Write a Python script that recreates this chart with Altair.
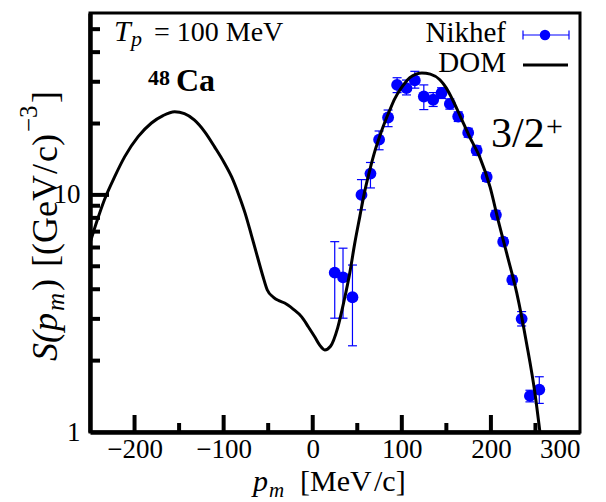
import altair as alt
import pandas as pd

# ---------------- data ----------------
dom_p = [-250, -242, -234, -222, -211, -196, -181, -168, -155, -144, -133, -121, -110,
         -100, -91, -83, -76, -69, -62, -56, -51, -44, -38, -31.5, -22, -12.4, -5, 2.2,
         8, 13.5, 20, 28, 35, 41.6, 47, 52.8, 58, 64, 70, 75, 81, 86.5, 92, 97.8, 104,
         109, 116, 122.5, 132, 142.7, 150, 157, 166, 176, 187.6, 199, 208, 217.6, 229,
         240, 249.4, 255]
dom_s = [6.27, 7.8, 9.5, 12.0, 14.5, 17.6, 20.1, 21.6, 22.4, 22.0, 20.7, 18.4, 15.9,
         13.8, 11.9, 10.0, 8.4, 6.8, 5.47, 4.55, 3.97, 3.70, 3.58, 3.50, 3.30, 3.06,
         2.78, 2.52, 2.32, 2.22, 2.30, 2.75, 3.55, 4.69, 6.2, 8.08, 10.2, 12.7, 15.4,
         17.6, 20.3, 22.8, 25.4, 27.7, 29.8, 31.2, 32.3, 32.7, 32.3, 30.6, 28.2, 25.2,
         21.3, 17.6, 14.4, 10.8, 7.85, 5.69, 3.86, 2.37, 1.46, 1.0]

nik_p = [24.7, 34.0, 44.6, 54.7, 64.8, 74.5, 84.6, 94.7, 105.2, 114.6, 124.7, 135.2,
         144.6, 153.9, 163.3, 174.5, 184.0, 195.2, 205.6, 213.8, 224.0, 234.5, 243.8, 254.3]
nik_s = [4.70, 4.49, 3.70, 10.0, 12.3, 17.1, 21.2, 29.1, 28.2, 30.4, 26.0, 25.2,
         26.9, 24.2, 21.4, 18.3, 15.4, 11.9, 8.24, 6.35, 4.38, 3.00, 1.42, 1.51]
nik_lo = [3.02, 3.02, 2.31, 8.65, 10.7, 15.5, 19.4, 27.0, 26.4, 28.2, 22.9, 23.6,
          25.5, 23.0, 20.4, 17.5, 14.7, 11.4, 7.9, 6.1, 4.2, 2.80, 1.34, 1.32]
nik_hi = [6.35, 5.96, 5.06, 11.6, 13.7, 18.6, 22.8, 31.2, 30.5, 33.2, 29.1, 27.0,
          28.3, 25.4, 22.4, 19.1, 16.1, 12.4, 8.6, 6.6, 4.55, 3.22, 1.50, 1.71]

x_labels = [-200, -100, 0, 100, 200, 300]
x_major = [-200, -100, 0, 100, 200]
x_minor = [-150, -50, 50, 150, 250]
y_labels = [1, 10]
y_major = [10]
y_minor = [2, 3, 4, 5, 6, 7, 8, 9, 20, 30, 40, 50]

series_names = ["Nikhef", "DOM"]

# ---------------- chart ----------------
W, H = 490, 419
FONT = "Liberation Serif"
BLUE = "#0000ff"

xs = alt.Scale(domain=[-250, 300], nice=False, zero=False)
ys = alt.Scale(type="log", domain=[1, 58.5], nice=False)
xaxis = alt.Axis(values=x_labels, title="", labelPadding=4, labelOverlap=False,
                 labelFontSize=27)
yaxis = alt.Axis(values=y_labels, title="", format="d", labelPadding=10,
                 labelFontSize=27, labelBaseline="middle")


def X(f):
    return alt.X(f, type="quantitative", scale=xs, axis=xaxis)


def Y(f):
    return alt.Y(f, type="quantitative", scale=ys, axis=yaxis)


dom_df = pd.DataFrame({"p": dom_p, "s": dom_s})
nik_df = pd.DataFrame({"p": nik_p, "s": nik_s, "lo": nik_lo, "hi": nik_hi})

err = alt.Chart(nik_df).mark_rule(color=BLUE, strokeWidth=1.2).encode(
    x=X("p"), y=Y("lo"), y2="hi")
cap_lo = alt.Chart(nik_df).mark_rule(color=BLUE, strokeWidth=1.2, xOffset=-4.5,
                                     x2Offset=4.5).encode(x=X("p"), x2="p", y=Y("lo"))
cap_hi = alt.Chart(nik_df).mark_rule(color=BLUE, strokeWidth=1.2, xOffset=-4.5,
                                     x2Offset=4.5).encode(x=X("p"), x2="p", y=Y("hi"))
pts = alt.Chart(nik_df).mark_circle(size=140, color=BLUE, opacity=1).encode(
    x=X("p"), y=Y("s"))
line = alt.Chart(dom_df).mark_line(color="black", strokeWidth=3, interpolate="monotone",
                                   clip=True).encode(x=X("p"), y=Y("s"))

# inward ticks
xmaj = alt.Chart(pd.DataFrame({"p": x_major})).mark_rule(color="black", strokeWidth=4).encode(
    x=X("p"), y=alt.value(H), y2=alt.value(H - 17))
xmin = alt.Chart(pd.DataFrame({"p": x_minor})).mark_rule(color="black", strokeWidth=4).encode(
    x=X("p"), y=alt.value(H), y2=alt.value(H - 9))
ymaj = alt.Chart(pd.DataFrame({"s": y_major})).mark_rule(color="black", strokeWidth=4).encode(
    y=Y("s"), x=alt.value(0), x2=alt.value(19))
ymin = alt.Chart(pd.DataFrame({"s": y_minor})).mark_rule(color="black", strokeWidth=4).encode(
    y=Y("s"), x=alt.value(0), x2=alt.value(10))


def label(txt, x, y, size, style="normal", weight="normal", angle=0, align="left"):
    return alt.Chart(pd.DataFrame({"t": [txt]})).mark_text(
        align=align, baseline="alphabetic", font=FONT, fontSize=size,
        fontStyle=style, fontWeight=weight, angle=angle, color="black"
    ).encode(x=alt.value(x), y=alt.value(y), text="t:N")


texts = [
    # T_p = 100 MeV
    label("T", 24, 28, 30, style="italic"),
    label("p", 41, 33, 22, style="italic"),
    label("= 100 MeV", 64, 28, 28),
    # 48Ca
    label("48", 58, 72, 22, weight="bold"),
    label("Ca", 86, 78, 32, weight="bold"),
    # 3/2+
    label("3/2", 401, 134, 42),
    label("+", 456, 123, 30),
    # legend
    label(series_names[0], 416, 29, 29, align="right"),
    label(series_names[1], 416, 59, 29, align="right"),
    # x title
    label("p", 163, 478, 30, style="italic"),
    label("m", 179, 484, 21, style="italic"),
    label("[MeV", 210, 478, 30),
    label("/c]", 284, 478, 30),
    # y title (rotated)
    label("S(p", -33, 348, 36, style="italic", angle=270),
    label("m", -26, 298, 25, style="italic", angle=270),
    label(")", -33, 278, 36, angle=270),
    label("[(GeV", -33, 254, 36, angle=270),
    label("/", -33, 161, 36, angle=270),
    label("c)", -33, 149, 36, angle=270),
    label("\u22123", -53, 119, 25, angle=270),
    label("]", -33, 90, 36, angle=270),
]

# legend symbols
leg_err = alt.Chart(pd.DataFrame({"a": [0]})).mark_rule(color=BLUE, strokeWidth=1.2).encode(
    x=alt.value(433), x2=alt.value(479), y=alt.value(22))
leg_capl = alt.Chart(pd.DataFrame({"a": [0]})).mark_rule(color=BLUE, strokeWidth=1.2).encode(
    x=alt.value(433), y=alt.value(17.5), y2=alt.value(26.5))
leg_capr = alt.Chart(pd.DataFrame({"a": [0]})).mark_rule(color=BLUE, strokeWidth=1.2).encode(
    x=alt.value(479), y=alt.value(17.5), y2=alt.value(26.5))
leg_pt = alt.Chart(pd.DataFrame({"a": [0]})).mark_circle(size=110, color=BLUE, opacity=1).encode(
    x=alt.value(455), y=alt.value(22))
leg_line = alt.Chart(pd.DataFrame({"a": [0]})).mark_rule(color="black", strokeWidth=3).encode(
    x=alt.value(433), x2=alt.value(478), y=alt.value(52))

chart = alt.layer(
    err, cap_lo, cap_hi, pts, line, xmaj, xmin, ymaj, ymin,
    leg_err, leg_capl, leg_capr, leg_pt, leg_line, *texts
).properties(
    width=W, height=H,
    autosize=alt.AutoSizeParams(type="none"),
    padding={"left": 82, "top": 5, "right": 10, "bottom": 70},
).configure_view(
    stroke="black", strokeWidth=3
).configure_axis(
    labelFont=FONT, labelColor="black", grid=False, ticks=False,
    domainColor="black", domainWidth=4.5
)

chart.save("out.html", embed_options={"renderer": "svg", "actions": False})
